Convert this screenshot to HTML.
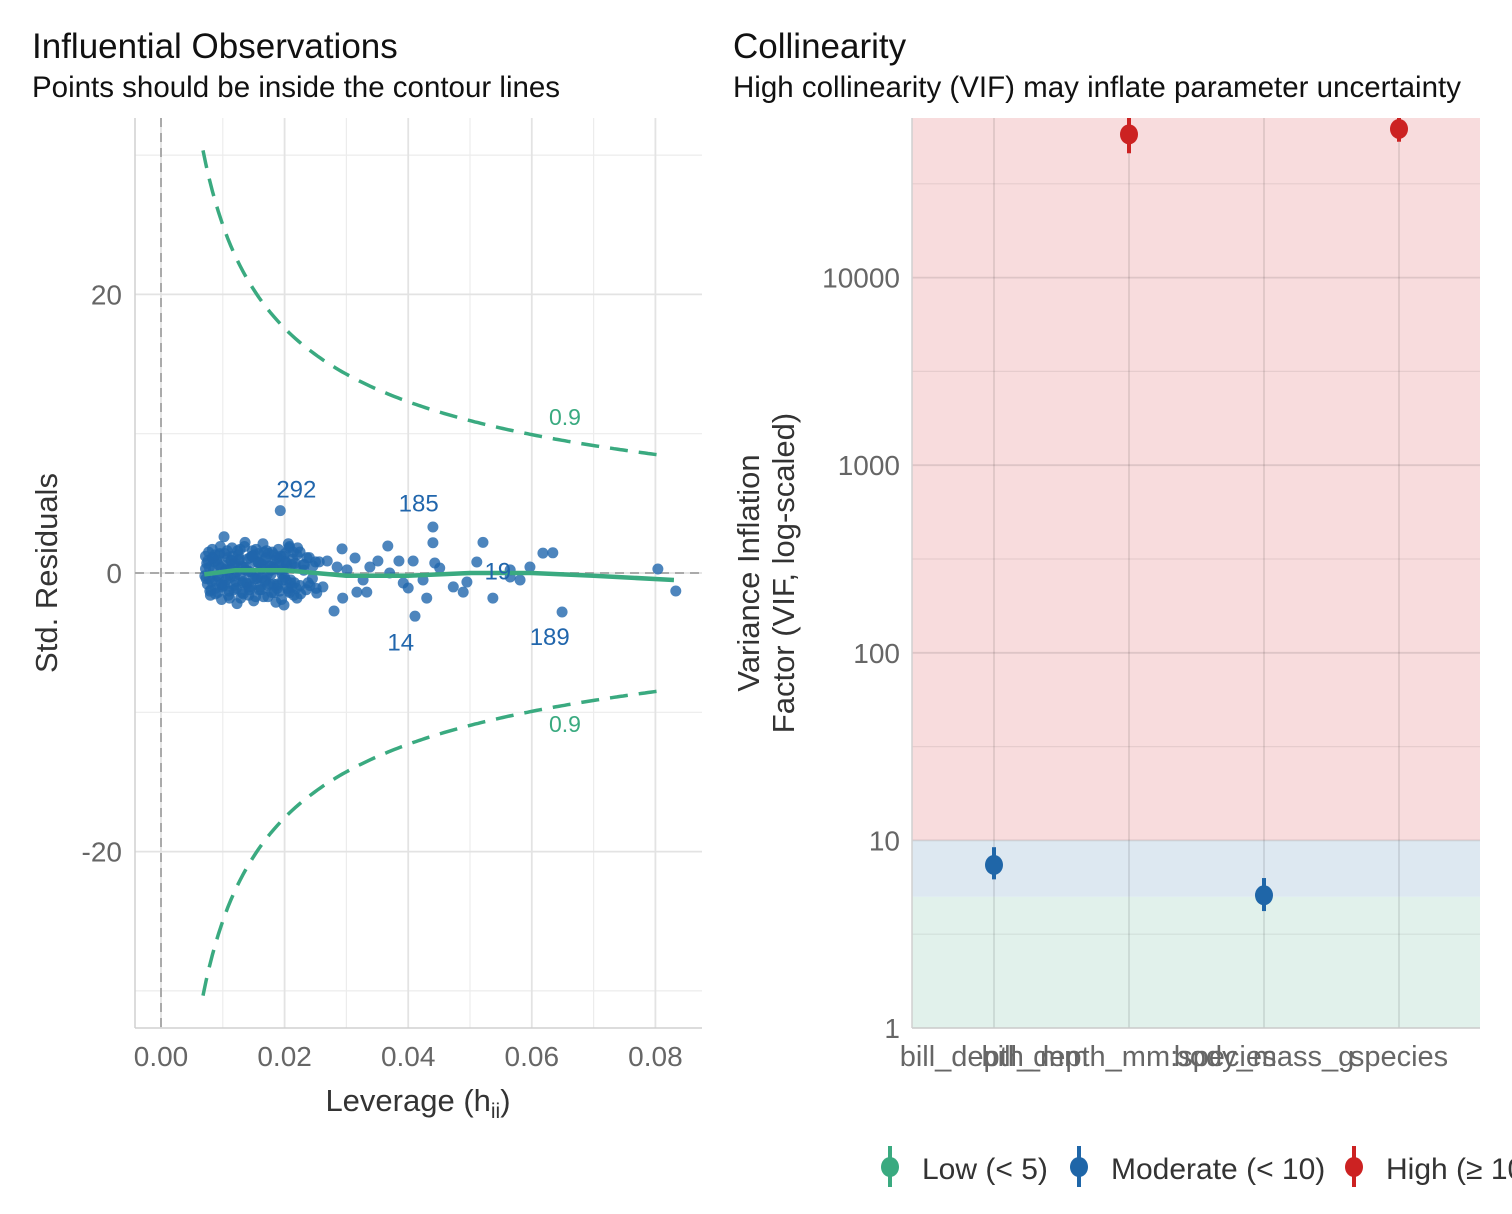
<!DOCTYPE html>
<html><head><meta charset="utf-8"><style>
body{margin:0;background:#fff;}
svg text{font-family:"Liberation Sans",Arial,sans-serif;}
</style></head><body>
<svg id="chart" width="1512" height="1209" xmlns="http://www.w3.org/2000/svg">
<g id="left"></g>
<g id="right"></g>
</svg>
<script>
// ---- Left chart data ----
const levX = [0.0193,0.044,0.044,0.0521,0.0618,0.0634,0.0804,0.0833,0.0649,0.0411,0.0537,0.0489,0.0473,0.043,0.0367,0.0351,0.0385,0.0408,0.0443,0.0451,0.0511,0.0565,0.0597,0.0581,0.0565,0.0495,0.04,0.0392,0.0424,0.0333,0.0317,0.0294,0.028,0.0293,0.0269,0.0314,0.0338,0.037,0.0301,0.0285,0.0327,0.0262,0.0252,0.022,0.0225,0.0206,
0.0072,0.0075,0.0078,0.008,0.0083,0.0085,0.0088,0.009,0.0093,0.0095,0.0098,0.010,0.0102,0.0105,0.0108,0.011,0.0113,0.0115,0.0118,0.012,0.0123,0.0125,0.0128,0.013,0.0133,0.0135,0.0138,0.014,0.0143,0.0145,0.0148,0.015,0.0153,0.0155,0.0158,0.016,0.0163,0.0165,0.0168,0.017,0.0173,0.0175,0.0178,0.018,0.0183,0.0185,0.0188,0.019,0.0193,0.0195,0.0198,0.020,0.0203,0.0205,0.0208,0.021,0.0213,0.0215,0.0218,0.022,0.0225,0.023,0.0235,0.024,0.0245,0.025,
0.0073,0.0077,0.0081,0.0086,0.0091,0.0096,0.0101,0.0106,0.0111,0.0116,0.0121,0.0126,0.0131,0.0136,0.0141,0.0146,0.0151,0.0156,0.0161,0.0166,0.0171,0.0176,0.0181,0.0186,0.0191,0.0196,0.0201,0.0206,0.0211,0.0216,0.0221,0.0226,0.0231,0.0236,0.0241,0.0246,0.0251,0.0256,
0.0074,0.0079,0.0084,0.0089,0.0094,0.0099,0.0104,0.0109,0.0114,0.0119,0.0124,0.0129,0.0134,0.0139,0.0144,0.0149,0.0154,0.0159,0.0164,0.0169,0.0174,0.0179,0.0184,0.0189,0.0194,0.0199,0.0204,0.0209,0.0214,0.0219,
0.0071,0.0076,0.0082,0.0087,0.0092,0.0097,0.0103,0.0107,0.0112,0.0117,0.0122,0.0127,0.0132,0.0137,0.0142,0.0147,0.0152,0.0157,0.0162,0.0167,0.0172,0.0177,0.0182,0.0187,0.0192,0.0197,0.0202,0.0207,0.0212,0.0217,
0.0072,0.0078,0.0083,0.0088,0.0093,0.0098,0.0103,0.0108,0.0113,0.0118,0.0123,0.0128,0.0133,0.0138,0.0143,0.0148,0.0153,0.0158,0.0163,0.0168,0.0173,0.0178,0.0183,0.0188,0.0192,0.0197,0.0202,0.0208,0.0232,0.0238];
const residY = [4.48,3.3,2.17,2.2,1.43,1.45,0.29,-1.29,-2.8,-3.1,-1.8,-1.37,-1.0,-1.8,1.94,0.86,0.86,0.86,0.72,0.36,0.79,0.22,0.43,-0.5,-0.29,-0.65,-1.08,-0.72,-0.5,-1.37,-1.37,-1.8,-2.73,1.73,0.86,1.08,0.43,0,0.22,0.43,-0.5,-1.0,-1.44,-1.8,1.51,2.1,
1.2,-0.8,0.4,-1.6,1.7,0.2,-1.1,0.9,-0.3,1.4,-1.9,0.6,2.6,-0.5,1.1,-1.3,0.3,1.8,-0.9,0.7,-2.2,1.3,-0.2,0.5,-1.5,1.9,-0.7,1.0,-1.2,0.1,1.6,-2.0,0.8,-0.4,1.4,-1.0,0.3,2.1,-0.6,1.1,-1.7,0.5,-0.1,1.5,-1.4,0.9,-0.8,1.7,0.2,-1.9,1.2,-0.3,0.7,-1.1,1.9,-0.5,1.0,-1.6,0.4,1.3,-0.9,0.6,-1.2,1.1,-0.4,0.8,
-0.4,1.5,-1.2,0.8,-0.2,1.9,-0.9,0.3,-1.8,1.2,-0.6,0.9,-1.4,2.2,0.1,-1.0,1.3,-0.3,0.7,-1.7,1.6,-0.8,0.4,-2.1,1.0,-0.1,1.4,-1.3,0.6,-0.7,1.8,-1.5,0.2,1.1,-0.9,0.5,-1.1,0.8,
0.7,-1.3,1.0,-0.6,1.3,-1.0,0.2,-1.6,0.9,-0.2,1.6,-1.8,0.4,-0.8,1.1,-0.3,1.7,-1.2,0.6,-0.5,1.4,-1.4,0.3,-0.9,1.2,-2.3,0.5,-0.7,1.5,-1.1,
-0.2,0.9,-0.6,1.3,-1.4,0.4,-0.9,1.6,-0.3,0.6,-1.1,1.0,-0.7,0.2,-1.6,1.2,-0.4,0.8,-1.2,1.5,-0.1,0.5,-0.8,1.1,-1.3,0.3,-0.5,1.8,-1.0,0.7,
0.3,-0.4,1.1,-1.5,0.6,-0.8,1.4,-0.2,0.9,-1.2,0.1,1.7,-0.6,0.4,-1.0,1.2,-1.7,0.7,-0.3,1.0,-0.9,0.2,1.3,-1.1,0.5,-0.5,0.8,-1.4,0.6,-0.7];
const labelIds = ["292","185","14","19","189"];
const labelX = [0.0219,0.0417,0.0388,0.0545,0.0629];
const labelY = [6.0,5.0,-5.0,0.1,-4.6];
const loessX = [0.007,0.012,0.02,0.03,0.04,0.05,0.06,0.07,0.083];
const loessY = [-0.1,0.2,0.2,-0.2,-0.2,0.0,0.0,-0.2,-0.5];
const contourP = 7, contourCook = 0.9;
const xTicks = [0,0.02,0.04,0.06,0.08];
const xTickLabels = ["0.00","0.02","0.04","0.06","0.08"];
const yTicks = [-20,0,20];

// ---- Right chart data ----
const terms = ["bill_depth_mm","bill_depth_mm:species","body_mass_g","species"];
const vif = [7.4,58000,5.1,62000];
const vifLo = [6.2,46000,4.2,53000];
const vifHi = [9.2,75000,6.3,76000];
const vifTicks = [1,10,100,1000,10000];

const NS="http://www.w3.org/2000/svg";
function mk(parent,tag,attrs,name,text){const e=document.createElementNS(NS,tag);for(const k in attrs)e.setAttribute(k,attrs[k]);


if(text!==undefined)e.textContent=text;parent.appendChild(e);return e;}

// Left
const L=document.getElementById('left');
const lx=v=>161+v*6180, ly=v=>573-v*13.93;
[30,10,-10,-30].forEach(v=>mk(L,'line',{x1:135,x2:702,y1:ly(v),y2:ly(v),stroke:'#ececec','stroke-width':1.2},'minor-gridline'));
[0.01,0.03,0.05,0.07].forEach(v=>mk(L,'line',{x1:lx(v),x2:lx(v),y1:118,y2:1028,stroke:'#ececec','stroke-width':1.2},'minor-gridline'));
yTicks.forEach(v=>{mk(L,'line',{x1:135,x2:702,y1:ly(v),y2:ly(v),stroke:'#e3e3e3','stroke-width':1.8},'major-gridline');
mk(L,'text',{x:122,y:ly(v)+10,'text-anchor':'end','font-size':28,fill:'#666'},'y-tick-label',String(v));});
xTicks.forEach((v,i)=>{mk(L,'line',{x1:lx(v),x2:lx(v),y1:118,y2:1028,stroke:'#e3e3e3','stroke-width':1.8},'major-gridline');
mk(L,'text',{x:lx(v),y:1066,'text-anchor':'middle','font-size':28,fill:'#666'},'x-tick-label',xTickLabels[i]);});
mk(L,'line',{x1:135,x2:135,y1:118,y2:1028,stroke:'#d0d0d0','stroke-width':1.5},'y-axis-line');
mk(L,'line',{x1:135,x2:702,y1:1028,y2:1028,stroke:'#d0d0d0','stroke-width':1.5},'x-axis-line');
mk(L,'line',{x1:lx(0),x2:lx(0),y1:118,y2:1028,stroke:'#aaa','stroke-width':2,'stroke-dasharray':'9,6'},'zero-leverage-line');
mk(L,'line',{x1:135,x2:702,y1:ly(0),y2:ly(0),stroke:'#aaa','stroke-width':2,'stroke-dasharray':'9,6'},'zero-residual-line');
[1,-1].forEach(s=>{let d='';for(let h=0.0068;h<=0.0805;h+=0.0005){const y=s*Math.sqrt(contourCook*contourP*(1-h)/h);d+=(d?'L':'M')+lx(h).toFixed(1)+','+ly(y).toFixed(1);}
mk(L,'path',{d:d,fill:'none',stroke:'#3aaa80','stroke-width':3.5,'stroke-dasharray':'18,11'},'cook-contour');});
mk(L,'text',{x:565,y:425,'text-anchor':'middle','font-size':23,fill:'#3aaa80'},'contour-label','0.9');
mk(L,'text',{x:565,y:732,'text-anchor':'middle','font-size':23,fill:'#3aaa80'},'contour-label','0.9');
levX.forEach((h,i)=>mk(L,'circle',{cx:lx(h),cy:ly(residY[i]),r:5.5,fill:'#2166ac','fill-opacity':0.8},'observation-point'));
let ld='';loessX.forEach((h,i)=>ld+=(i?'L':'M')+lx(h)+','+ly(loessY[i]));
mk(L,'path',{d:ld,fill:'none',stroke:'#3aaa80','stroke-width':4.5,'stroke-linejoin':'round'},'loess-line');
labelIds.forEach((t,i)=>mk(L,'text',{x:lx(labelX[i]),y:ly(labelY[i])+8,'text-anchor':'middle','font-size':24,fill:'#2166ac'},'point-label',t));
mk(L,'text',{x:32,y:58,'font-size':35,fill:'#111'},'left-title','Influential Observations');
mk(L,'text',{x:32,y:97,'font-size':29.5,fill:'#111'},'left-subtitle','Points should be inside the contour lines');
mk(L,'text',{x:418,y:1111,'text-anchor':'middle','font-size':31,fill:'#333'},'x-axis-title').innerHTML='Leverage (h<tspan dy="7" font-size="21">ii</tspan><tspan dy="-7">)</tspan>';
mk(L,'text',{x:0,y:0,transform:'translate(57,573) rotate(-90)','text-anchor':'middle','font-size':31,fill:'#333'},'y-axis-title','Std. Residuals');

// Right
const R=document.getElementById('right');
const rx=i=>994+i*135, ry=v=>1028-Math.log10(v)*187.6;
mk(R,'rect',{x:912,y:118,width:568,height:ry(10)-118,fill:'#f8dcdd'},'high-band');
mk(R,'rect',{x:912,y:ry(10),width:568,height:ry(5)-ry(10),fill:'#dde8f1'},'moderate-band');
mk(R,'rect',{x:912,y:ry(5),width:568,height:1028-ry(5),fill:'#e1f1eb'},'low-band');
[0.5,1.5,2.5,3.5,4.5].forEach(e=>mk(R,'line',{x1:912,x2:1480,y1:ry(Math.pow(10,e)),y2:ry(Math.pow(10,e)),stroke:'#000','stroke-opacity':0.07,'stroke-width':1.2},'minor-gridline'));
vifTicks.forEach(v=>{mk(R,'line',{x1:912,x2:1480,y1:ry(v),y2:ry(v),stroke:'#000','stroke-opacity':0.1,'stroke-width':1.8},'major-gridline');
mk(R,'text',{x:900,y:ry(v)+10,'text-anchor':'end','font-size':28,fill:'#666'},'y-tick-label',String(v));});
terms.forEach((t,i)=>{mk(R,'line',{x1:rx(i),x2:rx(i),y1:118,y2:1028,stroke:'#000','stroke-opacity':0.1,'stroke-width':1.8},'major-gridline');
mk(R,'text',{x:rx(i),y:1066,'text-anchor':'middle','font-size':29,fill:'#666'},'x-tick-label',t);});
mk(R,'line',{x1:912,x2:912,y1:118,y2:1028,stroke:'#d0d0d0','stroke-width':1.5},'y-axis-line');
mk(R,'line',{x1:912,x2:1480,y1:1028,y2:1028,stroke:'#d0d0d0','stroke-width':1.5},'x-axis-line');
const col=v=>v<5?'#3aaa80':v<10?'#1f66a8':'#cc2222';
terms.forEach((t,i)=>{mk(R,'line',{x1:rx(i),x2:rx(i),y1:Math.max(118,ry(vifHi[i])),y2:ry(vifLo[i]),stroke:col(vif[i]),'stroke-width':4},'vif-errorbar');
mk(R,'ellipse',{cx:rx(i),cy:ry(vif[i]),rx:9,ry:10,fill:col(vif[i])},'vif-point');});
mk(R,'text',{x:733,y:58,'font-size':35,fill:'#111'},'right-title','Collinearity');
mk(R,'text',{x:733,y:97,'font-size':29.5,fill:'#111'},'right-subtitle','High collinearity (VIF) may inflate parameter uncertainty');
mk(R,'text',{x:0,y:0,transform:'translate(759,573) rotate(-90)','text-anchor':'middle','font-size':31,fill:'#333'},'y-axis-title','Variance Inflation');
mk(R,'text',{x:0,y:0,transform:'translate(794,573) rotate(-90)','text-anchor':'middle','font-size':31,fill:'#333'},'y-axis-title-line2','Factor (VIF, log-scaled)');
const leg=[['Low (< 5)','#3aaa80',890,922],['Moderate (< 10)','#1f66a8',1079,1111],['High (≥ 10)','#cc2222',1354,1386]];
leg.forEach(l=>{mk(R,'line',{x1:l[2],x2:l[2],y1:1146,y2:1187,stroke:l[1],'stroke-width':4},'legend-key');
mk(R,'ellipse',{cx:l[2],cy:1167,rx:9,ry:10,fill:l[1]},'legend-key-point');
mk(R,'text',{x:l[3],y:1179,'font-size':30,fill:'#333'},'legend-label',l[0]);});
</script>
</body></html>
